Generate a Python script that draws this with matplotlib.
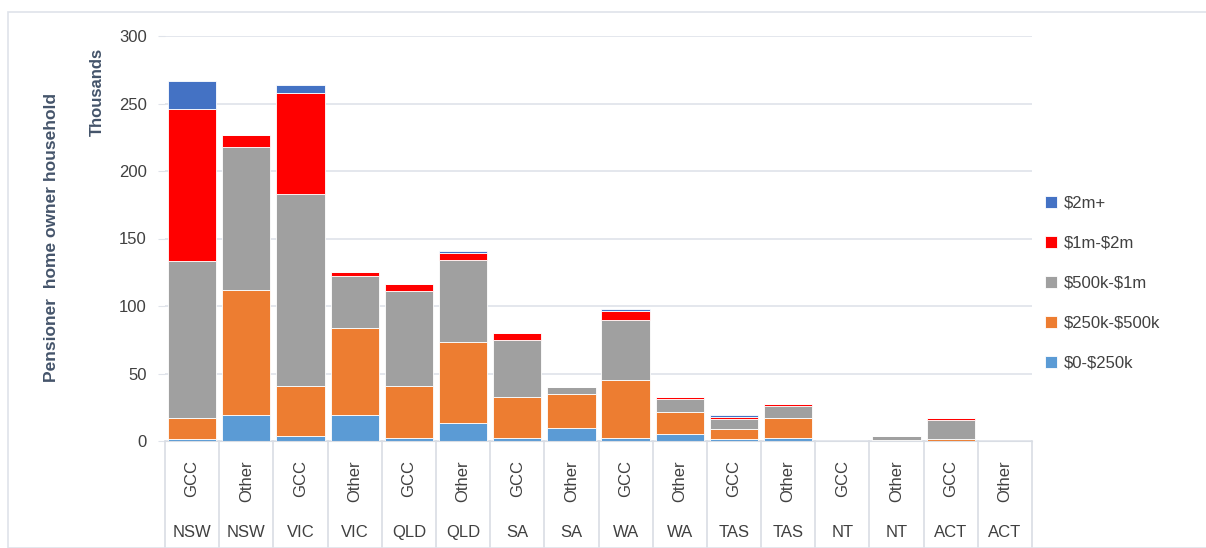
import numpy as np
import matplotlib
matplotlib.use("Agg")
import matplotlib.pyplot as plt
from matplotlib.lines import Line2D
from matplotlib.patches import Rectangle

plt.rcParams['font.family'] = ['Liberation Sans', 'DejaVu Sans']

regioes = ['GCC', 'Other'] * 8
estados = ['NSW', 'NSW', 'VIC', 'VIC', 'QLD', 'QLD', 'SA', 'SA',
           'WA', 'WA', 'TAS', 'TAS', 'NT', 'NT', 'ACT', 'ACT']

# thousands of households, by home value band
v_0_250k   = [1.5, 19, 4, 19, 2.5, 13, 2.5, 10, 2, 5, 1.3, 2.5, 0, 0, 0, 0]
v_250_500k = [15.5, 93, 37, 65, 38.5, 60.5, 30, 25, 43, 16.7, 7.4, 14.3, 0, 1, 1.3, 0]
v_500k_1m  = [116, 106, 142, 38.5, 70, 60.5, 42.5, 5, 45, 9.3, 7.8, 9.2, 0, 2.7, 14.2, 0]
v_1m_2m    = [113, 9, 75, 2.5, 5.5, 5.5, 5, 0.3, 6.5, 1.3, 1.5, 1.2, 0, 0, 1.3, 0]
v_2m_mais  = [21, 0, 6, 0, 0, 1, 0, 0, 1.5, 0, 1.5, 0, 0, 0, 0, 0]

series = [
    (r'\$0-\$250k', v_0_250k, '#5B9BD5'),
    (r'\$250k-\$500k', v_250_500k, '#ED7D31'),
    (r'\$500k-\$1m', v_500k_1m, '#A0A0A0'),
    (r'\$1m-\$2m', v_1m_2m, '#FF0000'),
    (r'\$2m+', v_2m_mais, '#4472C4'),
]

fig = plt.figure(figsize=(12.06, 5.48), dpi=100)
ax = fig.add_axes([165/1206, 1-441/548, (1032-165)/1206, (441-36)/548])

x = np.arange(len(regioes))
base = np.zeros(len(regioes))
barras = []
for nome, vals, cor in series:
    vals = np.array(vals)
    b = ax.bar(x, vals, 0.89, bottom=base, color=cor, edgecolor='white', linewidth=0.6, label=nome)
    barras.append(b)
    base = base + vals

ax.set_xlim(-0.5, 15.5)
ax.set_ylim(0, 300)
ax.set_yticks(range(0, 301, 50))
ax.yaxis.grid(True, color='#dfe3ea', linewidth=1.2)
ax.set_axisbelow(True)
for s in ['top', 'right', 'left']:
    ax.spines[s].set_visible(False)
ax.spines['bottom'].set_color('#d9dde4')
ax.tick_params(axis='y', colors='#dfe3ea', length=5, labelcolor='#404040', labelsize=12, pad=8)

ax.set_xticks(x)
ax.set_xticklabels(regioes, rotation=90, va='top', fontsize=12, color='#404040')
ax.tick_params(axis='x', length=0, pad=14)

# separators of the two-level category axis
for b in np.arange(-0.5, 16, 1):
    ax.add_line(Line2D([b, b], [0, -0.27], transform=ax.get_xaxis_transform(),
                       color='#d9dde4', linewidth=1.2, clip_on=False))
for i, e in enumerate(estados):
    ax.text(i, -0.227, e, transform=ax.get_xaxis_transform(), ha='center', va='center',
            fontsize=12, color='#404040')

fig.text(52/1206, 1-238/548, 'Pensioner  home owner household', rotation=90, ha='center', va='center',
         fontsize=12.5, fontweight='bold', color='#44546A')
fig.text(97/1206, 1-92/548, 'Thousands', rotation=90, ha='center', va='center',
         fontsize=12, fontweight='bold', color='#44546A')

h = [barras[4], barras[3], barras[2], barras[1], barras[0]]
leg = fig.legend(h, [s[0] for s in series[::-1]], loc='center left', bbox_to_anchor=(1030/1206, 1-283/548),
                 frameon=False, fontsize=12, labelcolor='#404040', handlelength=0.7, handleheight=0.7,
                 labelspacing=1.5, handletextpad=0.4)

fig.patches.append(Rectangle((8/1206, 0), 1.0, 1-12/548, transform=fig.transFigure,
                             fill=False, edgecolor='#dfe3ea', linewidth=1.2))

fig.savefig('out.png', dpi=100)
